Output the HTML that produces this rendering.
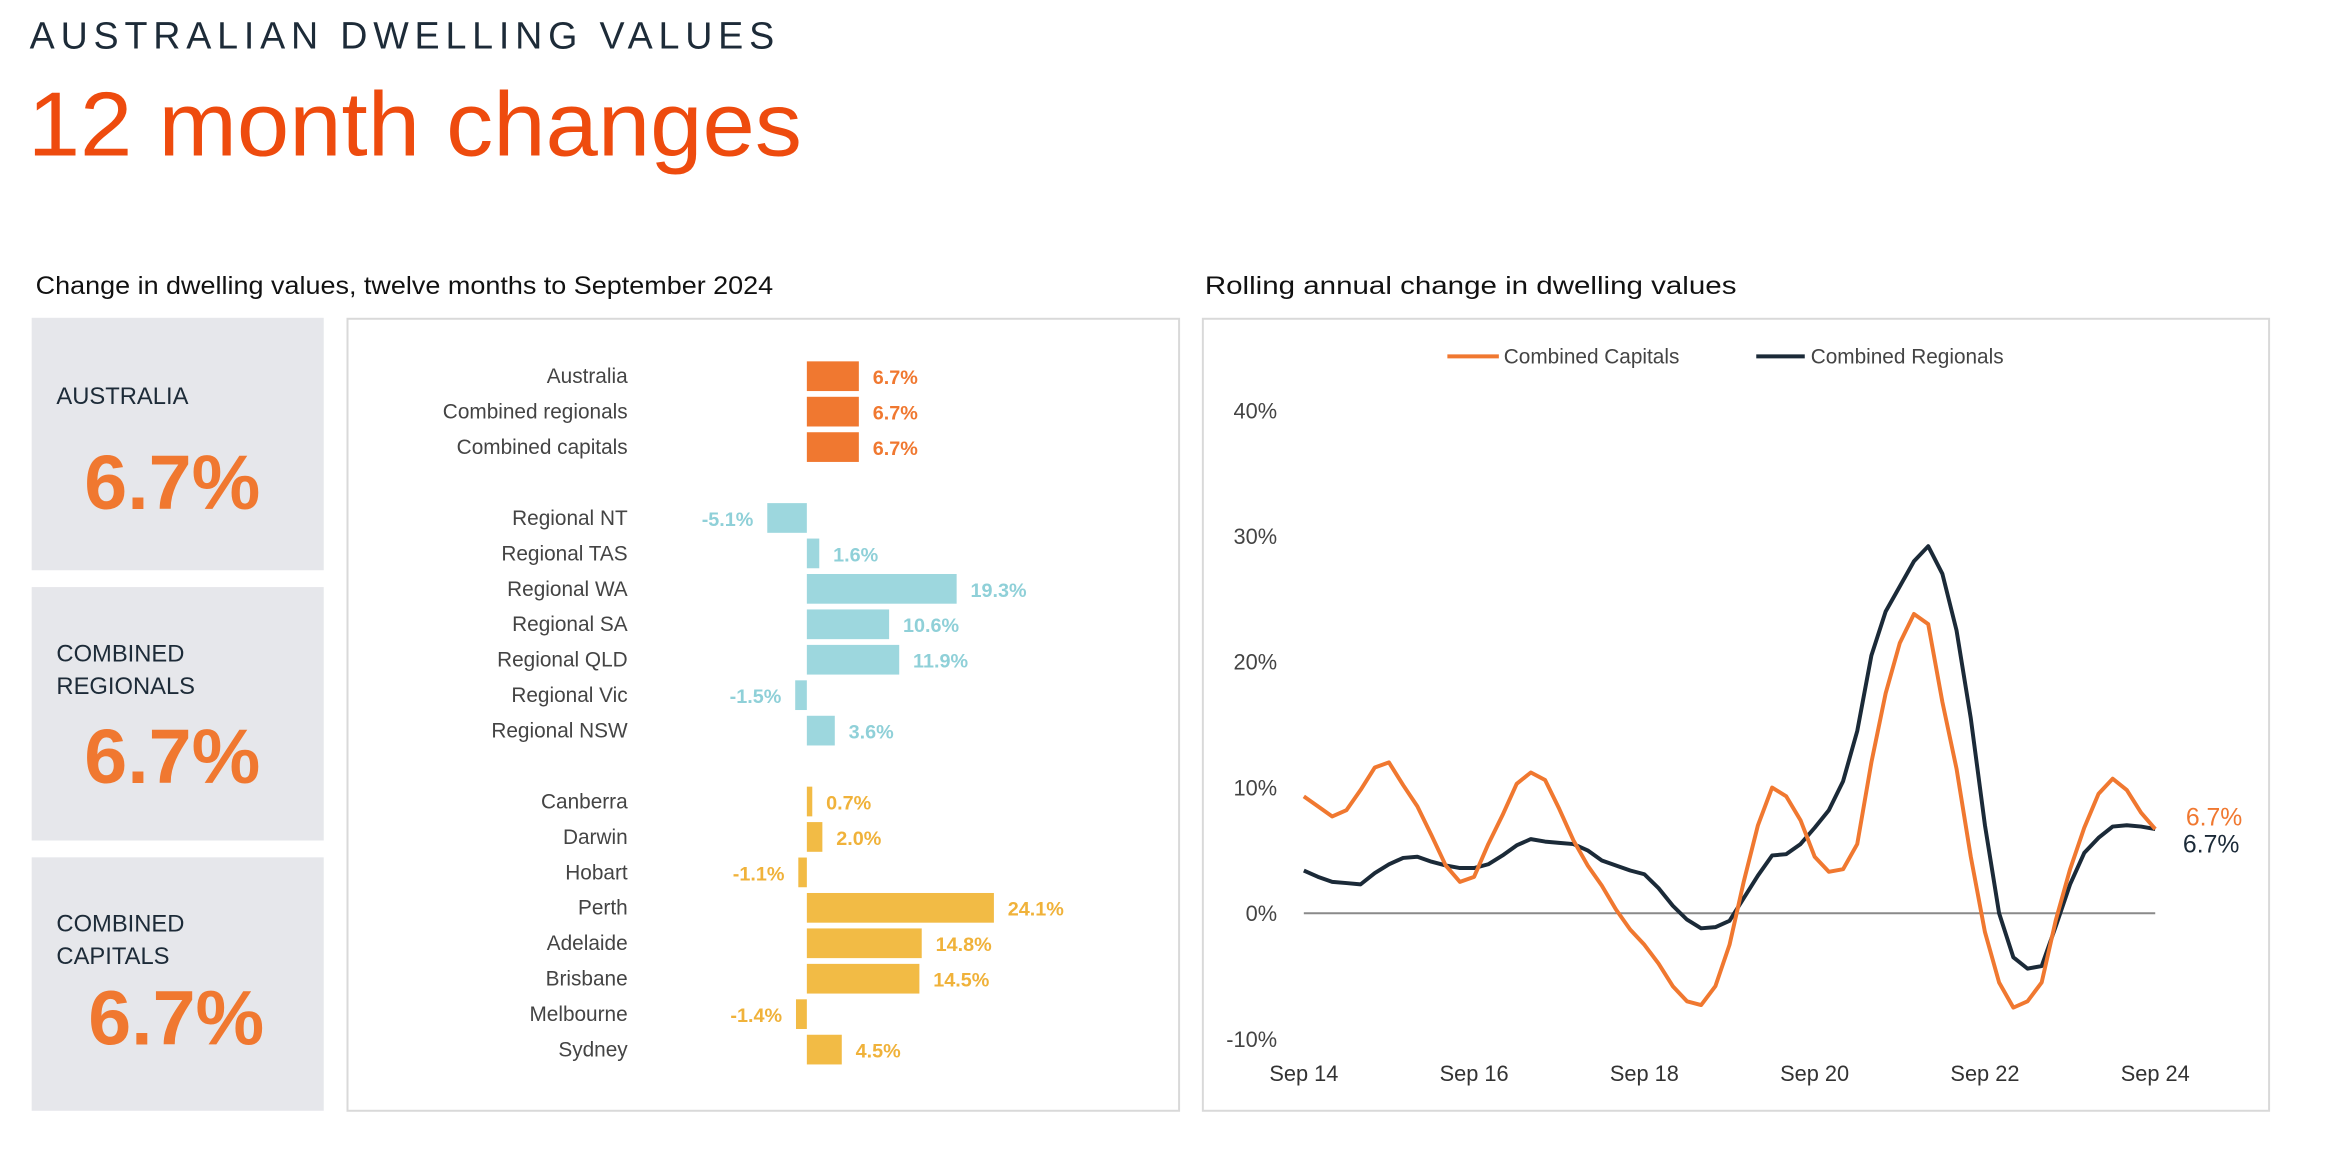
<!DOCTYPE html>
<html><head><meta charset="utf-8"><style>
html,body{margin:0;padding:0;background:#fff;}
svg{display:block;font-family:"Liberation Sans",sans-serif;}
</style></head><body>
<svg id="root" width="2328" height="1160" viewBox="0 0 2328 1160" xmlns="http://www.w3.org/2000/svg">
<g transform="scale(0.99)">
<text x="30" y="49" font-size="38" fill="#1d2b38" textLength="752" lengthAdjust="spacing">AUSTRALIAN DWELLING VALUES</text>
<text x="28" y="157" font-size="92" fill="#ee4b0e" textLength="782" lengthAdjust="spacingAndGlyphs">12 month changes</text>
<text x="36" y="297" font-size="25" fill="#111" textLength="745" lengthAdjust="spacingAndGlyphs">Change in dwelling values, twelve months to September 2024</text>
<text x="1217" y="297" font-size="25" fill="#111" textLength="537" lengthAdjust="spacingAndGlyphs">Rolling annual change in dwelling values</text>

<g>
<rect x="32" y="321" width="295" height="255" fill="#e6e7eb"/>
<text x="57" y="408" font-size="24" fill="#1d2b38">AUSTRALIA</text>
<text x="174" y="514" font-size="78" font-weight="bold" fill="#f07830" text-anchor="middle">6.7%</text>
</g>
<g>
<rect x="32" y="593" width="295" height="256" fill="#e6e7eb"/>
<text x="57" y="668" font-size="24" fill="#1d2b38">COMBINED</text>
<text x="57" y="701" font-size="24" fill="#1d2b38">REGIONALS</text>
<text x="174" y="791" font-size="78" font-weight="bold" fill="#f07830" text-anchor="middle">6.7%</text>
</g>
<g>
<rect x="32" y="866" width="295" height="256" fill="#e6e7eb"/>
<text x="57" y="941" font-size="24" fill="#1d2b38">COMBINED</text>
<text x="57" y="974" font-size="24" fill="#1d2b38">CAPITALS</text>
<text x="178" y="1055" font-size="78" font-weight="bold" fill="#f07830" text-anchor="middle">6.7%</text>
</g>

<rect x="351" y="322" width="840" height="800" fill="none" stroke="#d9d9d9" stroke-width="2"/>
<g id="bars"></g>

<rect x="1215" y="322" width="1077" height="800" fill="none" stroke="#d9d9d9" stroke-width="2"/>
<g id="lines"></g>
</g>
</svg>
<script>
const barCategories=["Australia","Combined regionals","Combined capitals","Regional NT","Regional TAS","Regional WA","Regional SA","Regional QLD","Regional Vic","Regional NSW","Canberra","Darwin","Hobart","Perth","Adelaide","Brisbane","Melbourne","Sydney"];
const barValues=[6.7,6.7,6.7,-5.1,1.6,19.3,10.6,11.9,-1.5,3.6,0.7,2.0,-1.1,24.1,14.8,14.5,-1.4,4.5];
const barGroups=[0,0,0,1,1,1,1,1,1,1,2,2,2,2,2,2,2,2];

const lineTickLabels=["Sep 14","Sep 16","Sep 18","Sep 20","Sep 22","Sep 24"];
const yTickValues=[-10,0,10,20,30,40];
// bi-monthly readings, Sep 2014 .. Sep 2024
const capitals=[9.3,8.5,7.7,8.2,9.8,11.6,12.0,10.2,8.5,6.2,3.8,2.5,2.9,5.5,7.8,10.3,11.2,10.6,8.3,5.8,3.8,2.2,0.3,-1.3,-2.5,-4.0,-5.8,-7.0,-7.3,-5.8,-2.5,2.5,7.0,10.0,9.3,7.4,4.5,3.3,3.5,5.5,12.0,17.5,21.5,23.8,23.0,16.8,11.5,4.5,-1.5,-5.5,-7.5,-7.0,-5.5,-0.5,3.5,6.8,9.5,10.7,9.8,8.0,6.7];
const regionals=[3.4,2.9,2.5,2.4,2.3,3.2,3.9,4.4,4.5,4.1,3.8,3.6,3.6,3.9,4.6,5.4,5.9,5.7,5.6,5.5,5.0,4.2,3.8,3.4,3.1,2.0,0.6,-0.5,-1.2,-1.1,-0.6,1.2,3.0,4.6,4.7,5.5,6.8,8.2,10.5,14.5,20.5,24.0,26.0,28.0,29.2,27.0,22.5,15.5,7.0,0.0,-3.5,-4.4,-4.2,-1.0,2.3,4.8,6.0,6.9,7.0,6.9,6.7];

const NS="http://www.w3.org/2000/svg";
function mk(tag,attrs,parent,text){const e=document.createElementNS(NS,tag);for(const k in attrs)e.setAttribute(k,attrs[k]);if(text!=null)e.textContent=text;parent.appendChild(e);return e;}

// Bar chart
const bg=document.getElementById('bars');
const zeroX=815, pxPer=7.84;
const xB=v=>zeroX+v*pxPer;
const rowY=i=>380+i*35.8;
const barFill=["#f07830","#9dd7de","#f2bb45"];
const textFill=["#f07830","#8fd0d8","#f0b23a"];
let row=0;
barCategories.forEach((c,i)=>{
  if(i>0&&barGroups[i]!==barGroups[i-1])row++;
  const y=rowY(row);const v=barValues[i];const g=barGroups[i];
  const lab=mk('text',{x:634,y:y+7,'font-size':21,fill:'#444','text-anchor':'end'},bg,c);
  
  
  const x0=Math.min(xB(0),xB(v)),w=Math.abs(xB(v)-xB(0));
  const r=mk('rect',{x:x0,y:y-15,width:w,height:30,fill:barFill[g]},bg);
  
  
  const vt=mk('text',{x:v>=0?xB(v)+14:xB(v)-14,y:y+8,'font-size':20,'font-weight':'bold',fill:textFill[g],'text-anchor':v>=0?'start':'end'},bg,(v<0?'-':'')+Math.abs(v).toFixed(1)+'%');
  
  
  row++;
});

// Line chart
const lg=document.getElementById('lines');
const x0L=1317,x1L=2177,y0=922.5,perTen=127;
const xL=i=>x0L+(x1L-x0L)*i/(capitals.length-1);
const yL=v=>y0-v*perTen/10;
yTickValues.forEach(v=>{
  const t=mk('text',{x:1290,y:yL(v)+8,'font-size':22,fill:'#444','text-anchor':'end'},lg,v+'%');
  
  
});
lineTickLabels.forEach((s,i)=>{
  const t=mk('text',{x:x0L+(x1L-x0L)*i/(lineTickLabels.length-1),y:1092,'font-size':22,fill:'#333','text-anchor':'middle'},lg,s);
  
  
});
const zl=mk('line',{x1:x0L,x2:x1L,y1:yL(0),y2:yL(0),stroke:'#8a8a8a','stroke-width':2},lg);


function path(arr,color,name){
  const d=arr.map((v,i)=>(i?'L':'M')+xL(i).toFixed(1)+','+yL(v).toFixed(1)).join('');
  const p=mk('path',{d:d,fill:'none',stroke:color,'stroke-width':4,'stroke-linejoin':'round'},lg);
  
  
}
path(regionals,'#1b2a38','combined-regionals-line');
path(capitals,'#f07830','combined-capitals-line');
const e1=mk('text',{x:2208,y:834,'font-size':25,fill:'#f07830'},lg,capitals[capitals.length-1].toFixed(1)+'%');


const e2=mk('text',{x:2205,y:861,'font-size':25,fill:'#1b2a38'},lg,regionals[regionals.length-1].toFixed(1)+'%');


// legend
const l1=mk('line',{x1:1462,x2:1514,y1:360,y2:360,stroke:'#f07830','stroke-width':4},lg);


const t1=mk('text',{x:1519,y:367,'font-size':21,fill:'#444'},lg,'Combined Capitals');


const l2=mk('line',{x1:1774,x2:1823,y1:360,y2:360,stroke:'#1b2a38','stroke-width':4},lg);


const t2=mk('text',{x:1829,y:367,'font-size':21,fill:'#444'},lg,'Combined Regionals');


</script>
</body></html>
